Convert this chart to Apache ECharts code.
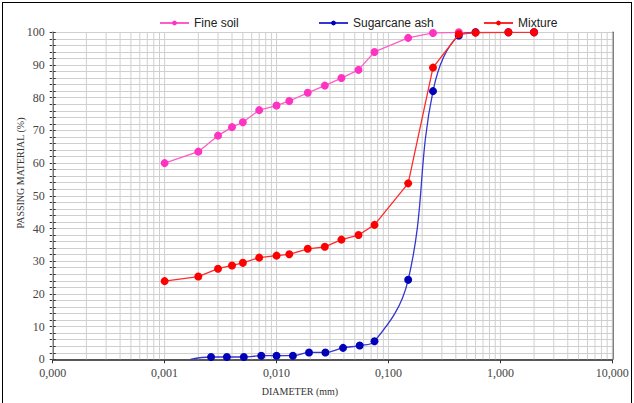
<!DOCTYPE html>
<html>
<head>
<meta charset="utf-8">
<script src="https://cdn.jsdelivr.net/npm/echarts@6/dist/echarts.min.js"></script>
<style>
  html, body { margin: 0; padding: 0; background: #fff; }
  #chart { position: absolute; left: 0; top: 0; width: 634px; height: 403px; }
  #frame { position: absolute; left: 2px; top: 2px; width: 628px; height: 410px;
           border: 1px solid #000; pointer-events: none; }
</style>
</head>
<body>
<div id="chart"></div>
<div id="frame"></div>
<script>
// sieve + hydrometer diameters (mm) and passing (%)
const soilDiameter = [0.001, 0.002, 0.003, 0.004, 0.005, 0.007, 0.010, 0.013, 0.019, 0.027, 0.038, 0.054, 0.075, 0.15, 0.25, 0.425, 0.6, 1.18, 2]
const fineSoilPassing = [60, 63.5, 68.4, 71, 72.5, 76.2, 77.6, 79, 81.5, 83.7, 86, 88.5, 94, 98.3, 99.8, 100, 100, 100, 100]
const mixturePassing = [23.9, 25.3, 27.7, 28.7, 29.5, 31.1, 31.7, 32.1, 33.8, 34.4, 36.6, 38, 41.1, 53.8, 89.2, 99.4, 99.9, 100, 100]

const ashDiameter = [0.0017, 0.0026, 0.0036, 0.0051, 0.0073, 0.0100, 0.0140, 0.0195, 0.0273, 0.0393, 0.0553, 0.075, 0.15, 0.25, 0.425, 0.6, 1.18, 2]
const ashPassing = [0, 0.7, 0.7, 0.7, 1.1, 1.1, 1.1, 2.1, 2.1, 3.5, 4.2, 5.5, 24.3, 82, 99, 100, 100, 100]

const xMin = 0.0001
const xMax = 10

// vertical log grid lines: 1..9 x each decade
const logGrid = []
for (let d = xMin; d < xMax * 0.99; d *= 10) {
  for (let k = 1; k <= 9; k++) logGrid.push(+(d * k).toPrecision(3))
}
logGrid.push(xMax)

const chart = echarts.init(document.getElementById('chart'), null, { renderer: 'svg' })

const serif = 'Liberation Serif, Times New Roman, serif'
const sans = 'Liberation Sans, Arial, sans-serif'

const pairs = (xs, ys) => xs.map((x, i) => [x, ys[i]])

const legendBase = {
  top: 12,
  itemWidth: 29,
  itemHeight: 6,
  itemGap: 7,
  textStyle: { fontFamily: sans, fontSize: 12, color: '#222' }
}

const option = {
  animation: false,
  grid: { left: 52.7, right: 21.7, top: 32.3, bottom: 43.7 },
  legend: [
    { ...legendBase, left: 154, data: ['Fine soil'] },
    { ...legendBase, left: 313, data: ['Sugarcane ash'] },
    { ...legendBase, left: 478, data: ['Mixture'] }
  ],
  xAxis: [
    {
      type: 'log',
      logBase: 10,
      min: xMin,
      max: xMax,
      axisLine: { lineStyle: { color: '#333', width: 1.5 } },
      axisTick: { show: true, length: 4, lineStyle: { color: '#333' } },
      axisLabel: {
        margin: 8,
        fontFamily: serif,
        fontSize: 12,
        color: '#444',
        formatter: v => v.toFixed(3).replace('.', ',')
      },
      splitLine: { show: false }
    },
    {
      type: 'log',
      logBase: 10,
      min: xMin,
      max: xMax,
      position: 'top',
      axisLine: { show: true, lineStyle: { color: '#555', width: 1.5 } },
      axisTick: { show: false },
      axisLabel: { show: false },
      splitLine: { show: false }
    }
  ],
  yAxis: [
    {
      type: 'value',
      min: 0,
      max: 100,
      interval: 2,
      axisLine: { show: true, lineStyle: { color: '#333', width: 1.5 } },
      axisTick: { show: true, length: 3, lineStyle: { color: '#333' } },
      axisLabel: {
        margin: 8,
        fontFamily: serif,
        fontSize: 12,
        color: '#444',
        formatter: v => (v % 10 === 0 ? String(v) : '')
      },
      splitLine: { show: true, lineStyle: { color: '#cfcfcf', width: 1 } }
    },
    {
      type: 'value',
      min: 0,
      max: 100,
      interval: 2,
      position: 'left',
      axisLine: { show: false },
      axisTick: { show: true, inside: true, length: 3, lineStyle: { color: '#333' } },
      axisLabel: { show: false },
      splitLine: { show: false }
    },
    {
      type: 'value',
      min: 0,
      max: 100,
      position: 'right',
      axisLine: { show: true, lineStyle: { color: '#555', width: 1.5 } },
      axisTick: { show: false },
      axisLabel: { show: false },
      splitLine: { show: false }
    }
  ],
  graphic: [
    {
      type: 'text',
      x: 300,
      y: 391,
      style: { text: 'DIAMETER (mm)', font: '10px ' + serif, fill: '#333', textAlign: 'center', textVerticalAlign: 'middle' }
    },
    {
      type: 'text',
      x: 20,
      y: 173,
      rotation: Math.PI / 2,
      style: { text: 'PASSING MATERIAL (%)', font: '10px ' + serif, fill: '#333', textAlign: 'center', textVerticalAlign: 'middle' }
    }
  ],
  series: [
    {
      type: 'custom',
      silent: true,
      z: 1,
      data: logGrid,
      renderItem: (params, api) => {
        const v = api.value(0)
        const p0 = api.coord([v, 0])
        const p1 = api.coord([v, 100])
        return {
          type: 'line',
          shape: { x1: p0[0], y1: p0[1], x2: p1[0], y2: p1[1] },
          style: { stroke: '#cfcfcf', lineWidth: 1 }
        }
      },
      encode: { x: 0 }
    },
    {
      name: 'Fine soil',
      type: 'line',
      z: 3,
      data: pairs(soilDiameter, fineSoilPassing),
      symbol: 'circle',
      symbolSize: 8,
      lineStyle: { color: '#ff5cc9', width: 1.3 },
      itemStyle: { color: '#ff33c2' }
    },
    {
      name: 'Sugarcane ash',
      type: 'line',
      z: 3,
      smooth: 0.4,
      data: ashDiameter.map((x, i) => (i === 0 ? { value: [x, ashPassing[i]], symbol: 'none' } : [x, ashPassing[i]])),
      symbol: 'circle',
      symbolSize: 8,
      lineStyle: { color: '#3535d0', width: 1.3 },
      itemStyle: { color: '#0000b8' }
    },
    {
      name: 'Mixture',
      type: 'line',
      z: 4,
      data: pairs(soilDiameter, mixturePassing),
      symbol: 'circle',
      symbolSize: 8,
      lineStyle: { color: '#ff2a2a', width: 1.3 },
      itemStyle: { color: '#ff0000' }
    }
  ]
}

chart.setOption(option)
</script>
</body>
</html>
